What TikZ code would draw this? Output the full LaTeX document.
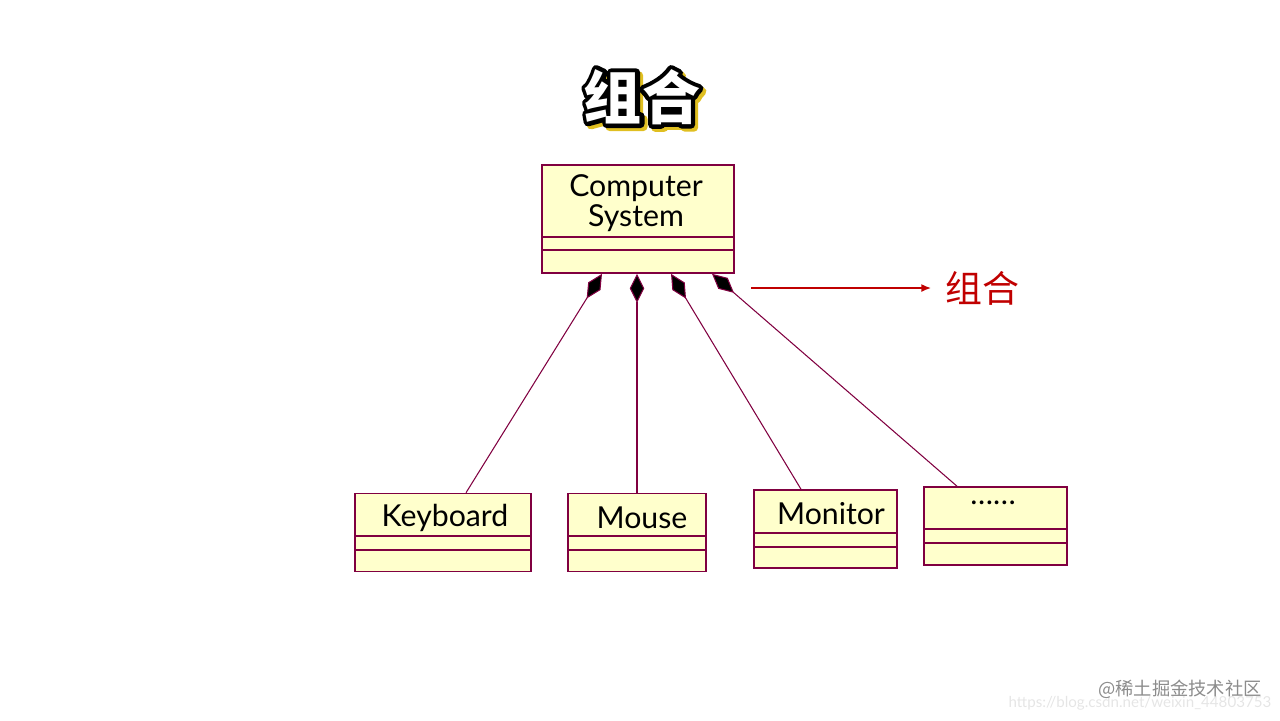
\documentclass[tikz,border=0pt]{standalone}
\usepackage{fontspec}
\setmainfont{Lato}
\newfontfamily\cjk{Noto Sans CJK SC}
\usetikzlibrary{arrows.meta}
\definecolor{classfill}{HTML}{FFFFCC}
\definecolor{classedge}{HTML}{800040}
\definecolor{notered}{HTML}{C00000}
% stroked text: line width, colours, text
\newcommand{\strokedtext}[3]{\special{pdf:literal direct 2 Tr #1 w 1 j #2}#3\special{pdf:literal direct 0 Tr}}
\tikzset{
  classbox/.style={draw=classedge, fill=classfill, line width=0.45pt, inner sep=0pt},
  classline/.style={classedge, line width=0.45pt},
  classname/.style={font=\fontsize{8.6pt}{8.6pt}\selectfont, inner sep=0pt, align=center},
  titletext/.style={font=\cjk\bfseries\fontsize{16.5pt}{16.5pt}\selectfont, inner sep=0pt},
  composition/.style={classedge, line width=0.3pt, -{Diamond[length=2.9mm, width=1.45mm, fill=black]}},
}
\begin{document}
\begin{tikzpicture}[x=0.01cm, y=-0.01cm]
    \useasboundingbox (0,0) rectangle (1280,720);

    % Title with shadow and outline
    \node[titletext] (title-shadow) at (645,100) {\strokedtext{2.4}{0.88 0.75 0.13 rg 0.88 0.75 0.13 RG}{组合}};
    \node[titletext] (title-outline) at (642,97) {\strokedtext{2.4}{0 0 0 rg 0 0 0 RG}{组合}};
    \node[titletext, text=white] (title) at (642,97) {组合};

    % Whole class
    \node[classbox, minimum width=1.92cm, minimum height=1.08cm] (cs) at (638,219) {};
    \draw[classline] (cs.west |- 0,237) -- (cs.east |- 0,237);
    \draw[classline] (cs.west |- 0,250) -- (cs.east |- 0,250);
    \node[classname] (cs-name) at (636,203) {Computer\\System};

    % Part classes
    \foreach \name/\cx/\cy/\w/\la/\lb/\tx/\ty/\txt in {
        kbd/443/532.5/1.76/536/550/445/518/Keyboard,
        mouse/637/532.5/1.38/536/550/642/518/Mouse,
        monitor/825.5/529/1.43/533/547/831/514/Monitor,
        more/995.5/526/1.43/529/543/993/503/……} {
        \node[classbox, minimum width=\w cm, minimum height=0.78cm] (\name) at (\cx,\cy) {};
        \draw[classline] (\name.west |- 0,\la) -- (\name.east |- 0,\la);
        \draw[classline] (\name.west |- 0,\lb) -- (\name.east |- 0,\lb);
        \node[classname] (\name-name) at (\tx,\ty) {\txt};
    }

    % Composition links
    \coordinate (cs-a) at ([xshift=-0.36cm]cs.south);
    \coordinate (cs-b) at ([xshift=-0.01cm]cs.south);
    \coordinate (cs-c) at ([xshift=0.33cm]cs.south);
    \coordinate (cs-d) at ([xshift=0.74cm]cs.south);
    \draw[composition] ([xshift=0.23cm]kbd.north) -- (cs-a);
    \draw[composition] (mouse.north) -- (cs-b);
    \draw[composition] ([xshift=-0.245cm]monitor.north) -- (cs-c);
    \draw[composition] ([xshift=-0.385cm]more.north) -- (cs-d);

    % Note arrow
    \node[font=\cjk\fontsize{10.5pt}{10.5pt}\selectfont, text=notered, inner xsep=1.3mm, inner ysep=0pt] (comp-label) at (982,288) {组合};
    \coordinate (comp-start) at (751,288);
    \draw[notered, line width=0.6pt, -{Latex[length=1mm, width=0.8mm]}] (comp-start) -- (comp-label.west);

    % Watermark
    \node[font=\fontsize{4.3pt}{4.3pt}\selectfont, text=black!10, anchor=east, inner sep=0pt] (wm-url) at (1272,703) {https://blog.csdn.net/weixin\_44803753};
    \node[font=\cjk\fontsize{5.2pt}{5.2pt}\selectfont, text=black!45, inner sep=0pt] (wm-site) at (1180,689) {@稀土掘金技术社区};
\end{tikzpicture}
\end{document}
